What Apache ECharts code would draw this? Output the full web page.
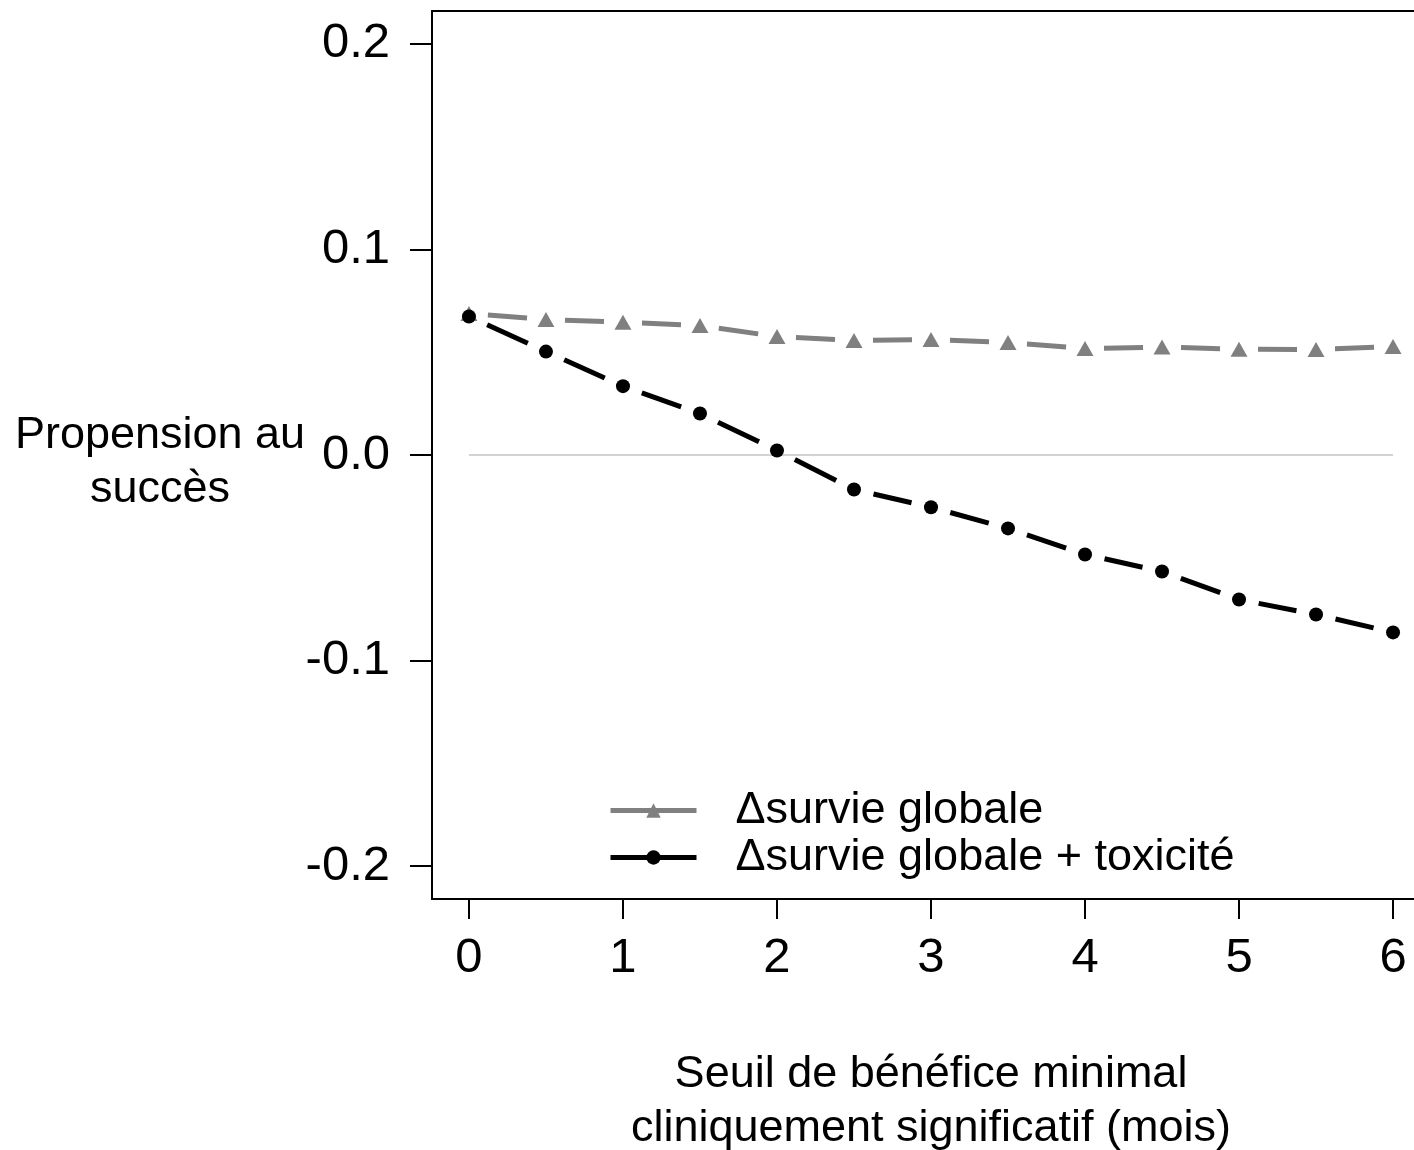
<!DOCTYPE html>
<html>
<head>
<meta charset="utf-8">
<script src="https://cdn.jsdelivr.net/npm/echarts@6/dist/echarts.min.js"></script>
<style>
html,body{margin:0;padding:0;background:#fff;overflow:hidden;}
#chart{width:1414px;height:1150px;}
</style>
</head>
<body>
<div id="chart"></div>
<script>
// ---- data ----
var thresholds = [0, 0.5, 1, 1.5, 2, 2.5, 3, 3.5, 4, 4.5, 5, 5.5, 6];
var survieGlobale = [0.0688, 0.0659, 0.0646, 0.0630, 0.0576, 0.0557, 0.0562, 0.0547, 0.0518, 0.0525, 0.0515, 0.0513, 0.0528];
var survieToxicite = [0.0674, 0.0503, 0.0335, 0.0202, 0.0022, -0.0168, -0.0254, -0.0357, -0.0484, -0.0567, -0.0703, -0.0776, -0.0863];
var xTicks = [0, 1, 2, 3, 4, 5, 6];
var yTicks = [-0.2, -0.1, 0.0, 0.1, 0.2];
var seriesNames = ['\u0394survie globale', '\u0394survie globale + toxicit\u00e9'];
var xTitle = 'Seuil de b\u00e9n\u00e9fice minimal\ncliniquement significatif (mois)';
var yTitle = 'Propension au\nsucc\u00e8s';

var FONT = '"Liberation Sans", Arial, sans-serif';
var GRAY = '#808080';
var BLACK = '#000000';

function pts(ys) { return thresholds.map(function (x, i) { return [x, ys[i]]; }); }
function segs(ys) {
  var out = [];
  for (var i = 0; i < thresholds.length - 1; i++) {
    out.push([thresholds[i], ys[i], thresholds[i + 1], ys[i + 1]]);
  }
  return out;
}
function segRenderer(color, width, gap) {
  return function (params, api) {
    var p0 = api.coord([api.value(0), api.value(1)]);
    var p1 = api.coord([api.value(2), api.value(3)]);
    var dx = p1[0] - p0[0], dy = p1[1] - p0[1];
    var len = Math.sqrt(dx * dx + dy * dy);
    var ux = dx / len, uy = dy / len;
    return {
      type: 'line',
      shape: { x1: p0[0] + ux * gap, y1: p0[1] + uy * gap, x2: p1[0] - ux * gap, y2: p1[1] - uy * gap },
      style: { stroke: color, lineWidth: width, lineCap: 'butt' }
    };
  };
}

var chart = echarts.init(document.getElementById('chart'), null, { renderer: 'canvas' });
chart.setOption({
  animation: false,
  backgroundColor: '#ffffff',
  grid: {
    left: 432, width: 998, top: 11, bottom: 251,
    outerBoundsMode: 'none', containLabel: false,
    show: false
  },
  graphic: [{
    type: 'text', x: 160, y: 463,
    style: {
      text: yTitle, x: 0, y: 0, fontFamily: FONT, fontSize: 45, fill: '#000',
      lineHeight: 54, align: 'center', verticalAlign: 'middle'
    }
  }],
  legend: {
    orient: 'vertical',
    left: 608, top: 787, padding: 0,
    itemWidth: 86, itemHeight: 18, itemGap: 0,
    textStyle: { fontFamily: FONT, fontSize: 45, color: '#000', lineHeight: 47, padding: [0, 0, 0, 34] },
    data: [
      { name: seriesNames[0], lineStyle: { color: GRAY, width: 5, type: 'solid', opacity: 1 }, itemStyle: { color: GRAY } },
      { name: seriesNames[1], lineStyle: { color: BLACK, width: 5, type: 'solid', opacity: 1 }, itemStyle: { color: BLACK } }
    ]
  },
  xAxis: [{
    type: 'value', min: -0.24, max: 6.24, position: 'bottom',
    splitLine: { show: false },
    axisLine: { show: true, onZero: false, lineStyle: { color: '#000', width: 2 } },
    axisTick: { show: true, length: 20, lineStyle: { color: '#000', width: 2 }, customValues: xTicks },
    axisLabel: { customValues: xTicks, margin: 35, fontFamily: FONT, fontSize: 49, color: '#000',
      formatter: function (v) { return String(v); } },
    name: xTitle, nameLocation: 'middle', nameGap: 149, nameMoveOverlap: false,
    nameTextStyle: { fontFamily: FONT, fontSize: 45, color: '#000', lineHeight: 54, align: 'center' }
  }, {
    type: 'value', min: -0.24, max: 6.24, position: 'top',
    splitLine: { show: false },
    axisLine: { show: true, onZero: false, lineStyle: { color: '#000', width: 2 } },
    axisTick: { show: false },
    axisLabel: { show: false }
  }],
  yAxis: {
    type: 'value', min: -0.216, max: 0.216,
    splitLine: { show: false },
    axisLine: { show: true, onZero: false, lineStyle: { color: '#000', width: 2 } },
    axisTick: { show: true, length: 22, lineStyle: { color: '#000', width: 2 }, customValues: yTicks },
    axisLabel: { customValues: yTicks, margin: 42, fontFamily: FONT, fontSize: 49, color: '#000',
      formatter: function (v) { return v.toFixed(1); } }
  },
  series: [
    {
      name: 'zero', type: 'line', data: [[xTicks[0], 0], [xTicks[xTicks.length - 1], 0]],
      showSymbol: false, silent: true, z: 1,
      lineStyle: { color: '#d3d3d3', width: 2 }
    },
    {
      type: 'custom', silent: true, z: 2,
      renderItem: segRenderer(GRAY, 5, 19),
      encode: { x: [0, 2], y: [1, 3] },
      data: segs(survieGlobale)
    },
    {
      type: 'custom', silent: true, z: 2,
      renderItem: segRenderer(BLACK, 5, 20),
      encode: { x: [0, 2], y: [1, 3] },
      data: segs(survieToxicite)
    },
    {
      name: seriesNames[0], type: 'line', data: pts(survieGlobale), z: 3,
      symbol: 'triangle', symbolSize: [17, 15], showSymbol: true,
      itemStyle: { color: GRAY },
      lineStyle: { opacity: 0, color: GRAY }
    },
    {
      name: seriesNames[1], type: 'line', data: pts(survieToxicite), z: 4,
      symbol: 'circle', symbolSize: 14, showSymbol: true,
      itemStyle: { color: BLACK },
      lineStyle: { opacity: 0, color: BLACK }
    }
  ]
});
</script>
</body>
</html>
